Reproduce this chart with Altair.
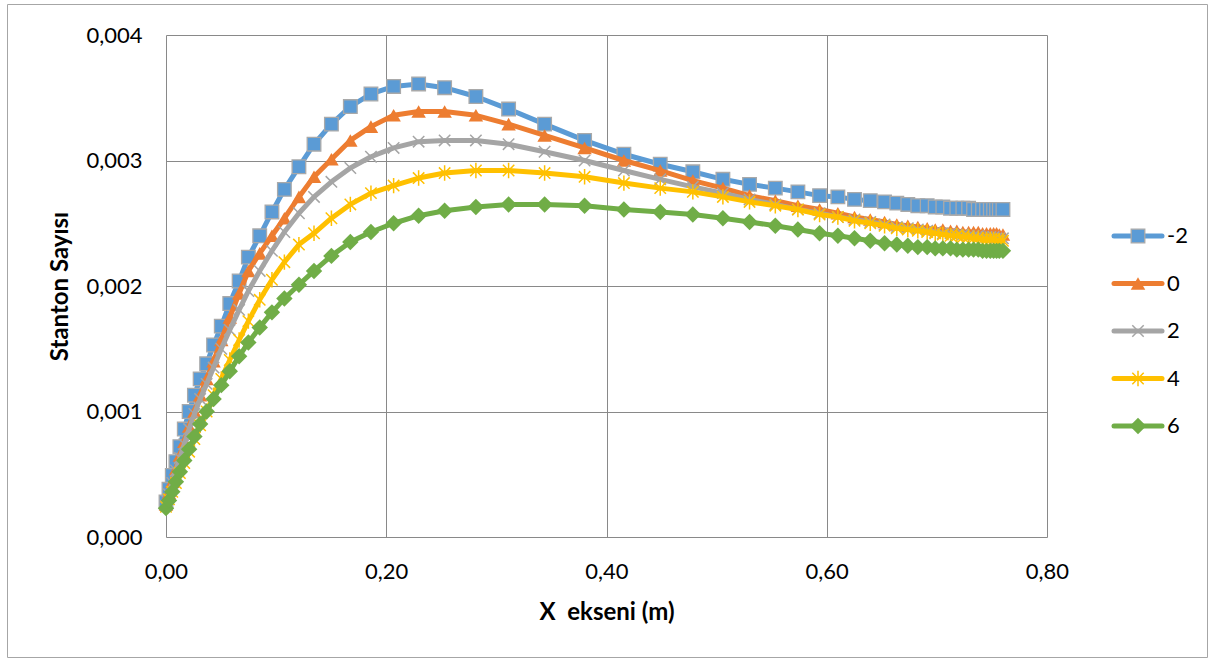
import altair as alt
import pandas as pd

# Position along the plate (m)
x_m = [0.0000, 0.0027, 0.0057, 0.0090, 0.0126, 0.0166, 0.0210, 0.0258, 0.0310, 0.0369,
       0.0432, 0.0502, 0.0579, 0.0664, 0.0748, 0.0851, 0.0962, 0.1075, 0.1207, 0.1344,
       0.1502, 0.1674, 0.1861, 0.2067, 0.2294, 0.2530, 0.2814, 0.3111, 0.3438, 0.3801,
       0.4158, 0.4488, 0.4784, 0.5057, 0.5299, 0.5533, 0.5738, 0.5935, 0.6101, 0.6252,
       0.6395, 0.6525, 0.6636, 0.6736, 0.6827, 0.6912, 0.6985, 0.7054, 0.7124, 0.7181,
       0.7236, 0.7288, 0.7333, 0.7376, 0.7415, 0.7451, 0.7485, 0.7515, 0.7542, 0.7567,
       0.7600]

# Stanton number for each case
st_m2 = [0.00028, 0.00038, 0.00049, 0.00060, 0.00072, 0.00086, 0.00100, 0.00113, 0.00126, 0.00138,
         0.00153, 0.00168, 0.00186, 0.00204, 0.00223, 0.00240, 0.00259, 0.00277, 0.00295, 0.00313,
         0.00329, 0.00343, 0.00353, 0.00359, 0.00361, 0.00358, 0.00351, 0.00341, 0.00329, 0.00316,
         0.00305, 0.00297, 0.00291, 0.00285, 0.00281, 0.00278, 0.00275, 0.00272, 0.00271, 0.00269,
         0.00268, 0.00267, 0.00266, 0.00265, 0.00264, 0.00264, 0.00263, 0.00263, 0.00262, 0.00262,
         0.00262, 0.00262, 0.00261, 0.00261, 0.00261, 0.00261, 0.00261, 0.00261, 0.00261, 0.00261,
         0.00261]
st_0 = [0.00026, 0.00035, 0.00044, 0.00054, 0.00065, 0.00076, 0.00088, 0.00100, 0.00113, 0.00126,
        0.00140, 0.00157, 0.00175, 0.00194, 0.00212, 0.00226, 0.00240, 0.00254, 0.00271, 0.00287,
        0.00301, 0.00316, 0.00327, 0.00336, 0.00339, 0.00339, 0.00336, 0.00329, 0.00320, 0.00310,
        0.00300, 0.00292, 0.00284, 0.00278, 0.00272, 0.00268, 0.00264, 0.00261, 0.00258, 0.00255,
        0.00253, 0.00251, 0.00249, 0.00248, 0.00247, 0.00246, 0.00245, 0.00245, 0.00244, 0.00244,
        0.00243, 0.00243, 0.00243, 0.00243, 0.00242, 0.00242, 0.00242, 0.00242, 0.00242, 0.00241,
        0.00241]
st_2 = [0.00025, 0.00034, 0.00043, 0.00053, 0.00063, 0.00074, 0.00086, 0.00098, 0.00110, 0.00122,
        0.00135, 0.00150, 0.00165, 0.00181, 0.00196, 0.00212, 0.00228, 0.00243, 0.00258, 0.00271,
        0.00283, 0.00294, 0.00303, 0.00310, 0.00315, 0.00316, 0.00316, 0.00313, 0.00307, 0.00300,
        0.00292, 0.00285, 0.00279, 0.00274, 0.00269, 0.00265, 0.00261, 0.00258, 0.00255, 0.00253,
        0.00251, 0.00249, 0.00247, 0.00246, 0.00245, 0.00244, 0.00243, 0.00242, 0.00242, 0.00241,
        0.00241, 0.00240, 0.00240, 0.00240, 0.00239, 0.00239, 0.00239, 0.00239, 0.00238, 0.00238,
        0.00238]
st_4 = [0.00024, 0.00030, 0.00036, 0.00043, 0.00051, 0.00059, 0.00068, 0.00078, 0.00089, 0.00100,
        0.00113, 0.00126, 0.00141, 0.00157, 0.00172, 0.00189, 0.00205, 0.00219, 0.00233, 0.00242,
        0.00254, 0.00265, 0.00274, 0.00280, 0.00286, 0.00290, 0.00292, 0.00292, 0.00290, 0.00287,
        0.00282, 0.00278, 0.00275, 0.00271, 0.00267, 0.00264, 0.00261, 0.00257, 0.00255, 0.00252,
        0.00250, 0.00248, 0.00246, 0.00245, 0.00244, 0.00243, 0.00242, 0.00241, 0.00240, 0.00240,
        0.00239, 0.00239, 0.00238, 0.00238, 0.00237, 0.00237, 0.00237, 0.00237, 0.00236, 0.00236,
        0.00236]
st_6 = [0.00023, 0.00029, 0.00036, 0.00044, 0.00052, 0.00061, 0.00070, 0.00080, 0.00090, 0.00100,
        0.00110, 0.00121, 0.00132, 0.00144, 0.00155, 0.00167, 0.00179, 0.00190, 0.00201, 0.00212,
        0.00224, 0.00235, 0.00243, 0.00250, 0.00256, 0.00260, 0.00263, 0.00265, 0.00265, 0.00264,
        0.00261, 0.00259, 0.00257, 0.00254, 0.00251, 0.00248, 0.00245, 0.00242, 0.00240, 0.00238,
        0.00236, 0.00234, 0.00233, 0.00232, 0.00231, 0.00231, 0.00230, 0.00230, 0.00230, 0.00229,
        0.00229, 0.00229, 0.00229, 0.00229, 0.00228, 0.00228, 0.00228, 0.00228, 0.00228, 0.00228,
        0.00228]

series_names = ["-2", "0", "2", "4", "6"]
series_values = [st_m2, st_0, st_2, st_4, st_6]
colors = ["#5B9BD5", "#ED7D31", "#A5A5A5", "#FFC000", "#70AD47"]

X_PATH = "M-1,-1L1,1M-1,1L1,-1"
STAR_PATH = "M-1,-1L1,1M-1,1L1,-1M0,-1.35L0,1.35"

marker_styles = [
    dict(shape="square", filled=True, size=185, stroke="#A9A9A9", strokeWidth=1.3),
    dict(shape="triangle-up", filled=True, size=210),
    dict(shape=X_PATH, filled=False, size=130, strokeWidth=1.5),
    dict(shape=STAR_PATH, filled=False, size=130, strokeWidth=1.5),
    dict(shape="diamond", filled=True, size=270),
]

W, H = 881, 502
FONT = "Lato"

x_scale = alt.Scale(domain=[0, 0.8], nice=False, zero=False)
y_scale = alt.Scale(domain=[0, 0.004], nice=False)

x_axis = alt.Axis(
    values=[0, 0.2, 0.4, 0.6, 0.8],
    labelExpr="replace(format(datum.value, '.2f'), '.', ',')",
    title="X\u00a0 ekseni (m)",
    titleX=W / 2, titleY=75, titleAlign="center", titleBaseline="middle",
    labelPadding=24, labelFlush=False, grid=True,
)
y_axis = alt.Axis(
    values=[0, 0.001, 0.002, 0.003, 0.004],
    labelExpr="replace(format(datum.value, '.3f'), '.', ',')",
    title="Stanton Sayısı",
    titleX=-106, titleY=251, titleAngle=-90, titleAlign="center", titleBaseline="middle",
    labelPadding=24, labelFlush=False, grid=True,
)

enc_x = alt.X("x:Q", scale=x_scale, axis=x_axis)
enc_y = alt.Y("st:Q", scale=y_scale, axis=y_axis)

layers = []
for name, vals, col, ms in zip(series_names, series_values, colors, marker_styles):
    df = pd.DataFrame({"x": x_m, "st": vals, "seri": name})
    line = alt.Chart(df).mark_line(
        color=col, strokeWidth=5, strokeCap="round", strokeJoin="round"
    ).encode(x=enc_x, y=enc_y)
    pt = alt.Chart(df).mark_point(color=col, opacity=1, **ms).encode(x=enc_x, y=enc_y)
    layers += [line, pt]

data_group = alt.layer(*layers)

# Legend drawn as small line-and-marker samples to the right of the plot
leg_scale = alt.Scale(domain=[0, 4], range=[201, 391])
leg_layers = []
for i, (name, col, ms) in enumerate(zip(series_names, colors, marker_styles)):
    ldf = pd.DataFrame({"rank": [i], "name": [name]})
    ly = alt.Y("rank:Q", scale=leg_scale, axis=None)
    leg_layers.append(
        alt.Chart(ldf).mark_rule(color=col, strokeWidth=5, strokeCap="round").encode(
            x=alt.value(948), x2=alt.value(996), y=ly)
    )
    leg_layers.append(
        alt.Chart(ldf).mark_point(color=col, opacity=1, **ms).encode(x=alt.value(972), y=ly)
    )
    leg_layers.append(
        alt.Chart(ldf).mark_text(align="left", baseline="middle", font=FONT, fontSize=22,
                                 color="#000000").encode(x=alt.value(1001), y=ly, text="name:N")
    )

frame = alt.Chart(pd.DataFrame({"a": [0]})).mark_rect(
    fill="#FFFFFF", fillOpacity=0, stroke="#A6A6A6", strokeWidth=1
).encode(x=alt.value(-158.5), x2=alt.value(1041.5), y=alt.value(-30.5), y2=alt.value(622.5))

legend_group = alt.layer(frame, *leg_layers)

chart = (
    alt.layer(legend_group, data_group)
    .resolve_scale(y="independent")
    .properties(
        width=W, height=H,
        autosize=alt.AutoSizeParams(type="none"),
        padding={"left": 166, "top": 35, "right": 168, "bottom": 124},
        background="#FFFFFF",
    )
    .configure_view(stroke=None)
    .configure_axis(
        gridColor="#898989", gridWidth=1, domain=False, ticks=False,
        labelFont=FONT, labelFontSize=22, labelColor="#000000",
        titleFont=FONT, titleFontSize=24, titleFontWeight="bold", titleColor="#000000",
    )
)

chart.save("out.html", embed_options={"renderer": "svg", "actions": False})
